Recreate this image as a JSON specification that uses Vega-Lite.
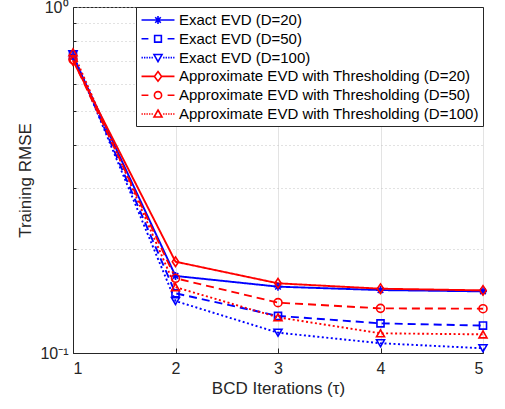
{
  "$schema": "https://vega.github.io/schema/vega-lite/v6.json",
  "width": 410,
  "height": 346,
  "autosize": {"type": "none"},
  "padding": {"left": 73, "top": 7, "right": 22, "bottom": 56},
  "background": "white",
  "config": {
    "font": "Liberation Sans",
    "view": {"stroke": "#262626", "strokeWidth": 1},
    "axis": {
      "labelFont": "Liberation Sans",
      "titleFont": "Liberation Sans",
      "labelColor": "#262626",
      "titleColor": "#262626",
      "labelFontSize": 16,
      "titleFontSize": 17,
      "titleFontWeight": "normal",
      "domainColor": "#262626",
      "tickColor": "#262626"
    },
    "legend": {
      "labelFont": "Liberation Sans",
      "labelFontSize": 15,
      "labelColor": "#000000",
      "labelLimit": 500,
      "title": null,
      "orient": "top-right",
      "offset": 0,
      "padding": 4,
      "rowPadding": 1.8,
      "symbolSize": 256,
      "symbolStrokeWidth": 1.6,
      "symbolOffset": 9,
      "labelOffset": 12,
      "fillColor": "white",
      "strokeColor": "#262626"
    }
  },
  "data": {
    "values": [
      {"x": 1, "series": "Exact EVD (D=20)", "v": 0.72},
      {"x": 2, "series": "Exact EVD (D=20)", "v": 0.167},
      {"x": 3, "series": "Exact EVD (D=20)", "v": 0.1555},
      {"x": 4, "series": "Exact EVD (D=20)", "v": 0.152},
      {"x": 5, "series": "Exact EVD (D=20)", "v": 0.1507},
      {"x": 1, "series": "Exact EVD (D=50)", "v": 0.725},
      {"x": 2, "series": "Exact EVD (D=50)", "v": 0.1488},
      {"x": 3, "series": "Exact EVD (D=50)", "v": 0.128},
      {"x": 4, "series": "Exact EVD (D=50)", "v": 0.1218},
      {"x": 5, "series": "Exact EVD (D=50)", "v": 0.12},
      {"x": 1, "series": "Exact EVD (D=100)", "v": 0.73},
      {"x": 2, "series": "Exact EVD (D=100)", "v": 0.1413},
      {"x": 3, "series": "Exact EVD (D=100)", "v": 0.1145},
      {"x": 4, "series": "Exact EVD (D=100)", "v": 0.1067},
      {"x": 5, "series": "Exact EVD (D=100)", "v": 0.1032},
      {"x": 1, "series": "Approximate EVD with Thresholding (D=20)", "v": 0.70},
      {"x": 2, "series": "Approximate EVD with Thresholding (D=20)", "v": 0.1836},
      {"x": 3, "series": "Approximate EVD with Thresholding (D=20)", "v": 0.159},
      {"x": 4, "series": "Approximate EVD with Thresholding (D=20)", "v": 0.1534},
      {"x": 5, "series": "Approximate EVD with Thresholding (D=20)", "v": 0.1517},
      {"x": 1, "series": "Approximate EVD with Thresholding (D=50)", "v": 0.705},
      {"x": 2, "series": "Approximate EVD with Thresholding (D=50)", "v": 0.1644},
      {"x": 3, "series": "Approximate EVD with Thresholding (D=50)", "v": 0.1398},
      {"x": 4, "series": "Approximate EVD with Thresholding (D=50)", "v": 0.1346},
      {"x": 5, "series": "Approximate EVD with Thresholding (D=50)", "v": 0.1343},
      {"x": 1, "series": "Approximate EVD with Thresholding (D=100)", "v": 0.74},
      {"x": 2, "series": "Approximate EVD with Thresholding (D=100)", "v": 0.155},
      {"x": 3, "series": "Approximate EVD with Thresholding (D=100)", "v": 0.1268},
      {"x": 4, "series": "Approximate EVD with Thresholding (D=100)", "v": 0.114},
      {"x": 5, "series": "Approximate EVD with Thresholding (D=100)", "v": 0.1132}
    ]
  },
  "encoding": {
    "x": {
      "field": "x", "type": "quantitative",
      "scale": {"domain": [1, 5], "nice": false, "zero": false},
      "axis": {
        "title": "BCD Iterations (τ)",
        "values": [1, 2, 3, 4, 5],
        "format": "d",
        "grid": true,
        "gridColor": "#e3e3e3",
        "tickSize": -5,
        "labelPadding": 12,
        "titlePadding": 4
      }
    },
    "y": {
      "field": "v", "type": "quantitative",
      "scale": {"type": "log", "domain": [0.1, 1], "nice": false},
      "axis": {
        "title": "Training RMSE",
        "values": [0.1, 0.2, 0.3, 0.4, 0.5, 0.6, 0.7, 0.8, 0.9, 1],
        "labelExpr": "datum.value == 1 ? '10⁰' : (datum.value == 0.1 ? '10⁻¹' : '')",
        "grid": true,
        "gridColor": "#c4c4c4",
        "gridDash": [1, 3],
        "tickSize": -3,
        "labelPadding": 8,
        "titlePadding": 5
      }
    },
    "color": {
      "field": "series", "type": "nominal",
      "scale": {
        "domain": ["Exact EVD (D=20)", "Exact EVD (D=50)", "Exact EVD (D=100)", "Approximate EVD with Thresholding (D=20)", "Approximate EVD with Thresholding (D=50)", "Approximate EVD with Thresholding (D=100)"],
        "range": ["#0000ff", "#0000ff", "#0000ff", "#ff0000", "#ff0000", "#ff0000"]
      }
    }
  },
  "layer": [
    {
      "mark": {"type": "line", "strokeWidth": 1.9},
      "encoding": {
        "strokeDash": {
          "field": "series", "type": "nominal",
          "scale": {
            "domain": ["Approximate EVD with Thresholding (D=100)", "Exact EVD (D=20)", "Exact EVD (D=50)", "Exact EVD (D=100)", "Approximate EVD with Thresholding (D=20)", "Approximate EVD with Thresholding (D=50)"],
            "range": [[2, 2.5], [1, 0], [8, 5], [2, 2.5], [1, 0], [8, 5]]
          },
          "legend": null
        }
      }
    },
    {
      "transform": [{"filter": "datum.series == 'Exact EVD (D=20)'"}],
      "mark": {"type": "point", "filled": false, "strokeWidth": 1.6, "size": 64, "opacity": 1, "shape": "M-1,0H1M0,-1V1M-0.7,-0.7L0.7,0.7M-0.7,0.7L0.7,-0.7"}
    },
    {
      "transform": [{"filter": "datum.series == 'Exact EVD (D=50)'"}],
      "mark": {"type": "point", "filled": false, "strokeWidth": 1.6, "size": 50, "opacity": 1, "shape": "square"}
    },
    {
      "transform": [{"filter": "datum.series == 'Exact EVD (D=100)'"}],
      "mark": {"type": "point", "filled": false, "strokeWidth": 1.6, "size": 64, "opacity": 1, "shape": "triangle-down"}
    },
    {
      "transform": [{"filter": "datum.series == 'Approximate EVD with Thresholding (D=20)'"}],
      "mark": {"type": "point", "filled": false, "strokeWidth": 1.6, "size": 64, "opacity": 1, "shape": "M0,-1.2L0.8,0L0,1.2L-0.8,0Z"}
    },
    {
      "transform": [{"filter": "datum.series == 'Approximate EVD with Thresholding (D=50)'"}],
      "mark": {"type": "point", "filled": false, "strokeWidth": 1.6, "size": 64, "opacity": 1, "shape": "circle"}
    },
    {
      "transform": [{"filter": "datum.series == 'Approximate EVD with Thresholding (D=100)'"}],
      "mark": {"type": "point", "filled": false, "strokeWidth": 1.6, "size": 64, "opacity": 1, "shape": "triangle-up"}
    },
    {
      "transform": [{"filter": "datum.x > 100"}],
      "mark": {"type": "point", "filled": false, "strokeWidth": 1.6, "opacity": 1},
      "encoding": {
        "shape": {
          "field": "series", "type": "nominal",
          "scale": {
            "domain": ["Exact EVD (D=20)", "Exact EVD (D=50)", "Exact EVD (D=100)", "Approximate EVD with Thresholding (D=20)", "Approximate EVD with Thresholding (D=50)", "Approximate EVD with Thresholding (D=100)"],
            "range": [
              "M-2.06,0H2.06M-0.5,0H0.5M0,-0.5V0.5M-0.35,-0.35L0.35,0.35M-0.35,0.35L0.35,-0.35",
              "M-2.06,0H-1.2M1.2,0H2.06M-0.42,-0.42H0.42V0.42H-0.42Z",
              "M-2.06,0H-1.89M-1.75,0H-1.58M-1.44,0H-1.27M-1.12,0H-0.95M-0.81,0H-0.64M0.64,0H0.81M0.95,0H1.12M1.27,0H1.44M1.58,0H1.75M1.89,0H2.06M-0.5,-0.38L0.5,-0.38L0,0.5Z",
              "M-2.06,0H-0.45M0.45,0H2.06M0,-0.6L0.45,0L0,0.6L-0.45,0Z",
              "M-2.06,0H-1.2M1.2,0H2.06M0.45,0A0.45,0.45 0 1,1 -0.45,0A0.45,0.45 0 1,1 0.45,0Z",
              "M-2.06,0H-1.89M-1.75,0H-1.58M-1.44,0H-1.27M-1.12,0H-0.95M-0.81,0H-0.64M0.64,0H0.81M0.95,0H1.12M1.27,0H1.44M1.58,0H1.75M1.89,0H2.06M0,-0.5L0.5,0.38L-0.5,0.38Z"
            ]
          }
        }
      }
    }
  ]
}
